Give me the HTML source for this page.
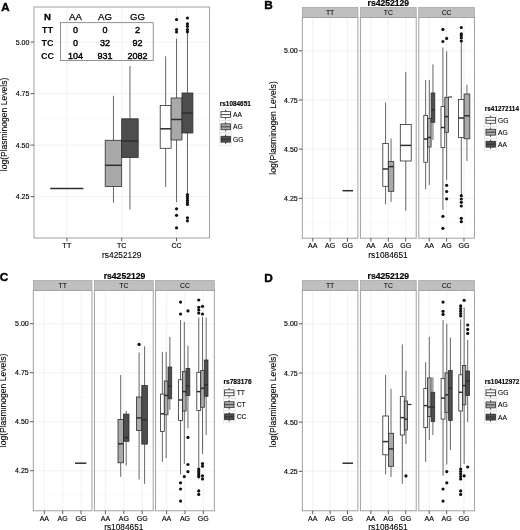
<!DOCTYPE html>
<html lang="en">
<head>
<meta charset="utf-8">
<title>Plasminogen levels by genotype</title>
<style>
html,body{margin:0;padding:0;background:#fff;}
body{width:520px;height:530px;overflow:hidden;}
svg{display:block;font-family:'Liberation Sans', Arial, Helvetica, sans-serif;filter:blur(0.35px);}
</style>
</head>
<body>
<svg width="520" height="530" viewBox="0 0 520 530">
<rect x="0" y="0" width="520" height="530" fill="#ffffff"/>
<rect x="34" y="7" width="175.5" height="231" fill="#ffffff" stroke="none" stroke-width="0.8"/>
<line x1="34" y1="16.25" x2="209.5" y2="16.25" stroke="#f9f9f9" stroke-width="0.6"/>
<line x1="34" y1="67.75" x2="209.5" y2="67.75" stroke="#f9f9f9" stroke-width="0.6"/>
<line x1="34" y1="119.25" x2="209.5" y2="119.25" stroke="#f9f9f9" stroke-width="0.6"/>
<line x1="34" y1="170.75" x2="209.5" y2="170.75" stroke="#f9f9f9" stroke-width="0.6"/>
<line x1="34" y1="222.25" x2="209.5" y2="222.25" stroke="#f9f9f9" stroke-width="0.6"/>
<line x1="34" y1="42" x2="209.5" y2="42" stroke="#ededed" stroke-width="0.7"/>
<line x1="34" y1="93.6" x2="209.5" y2="93.6" stroke="#ededed" stroke-width="0.7"/>
<line x1="34" y1="145.1" x2="209.5" y2="145.1" stroke="#ededed" stroke-width="0.7"/>
<line x1="34" y1="196.6" x2="209.5" y2="196.6" stroke="#ededed" stroke-width="0.7"/>
<line x1="66.9" y1="7" x2="66.9" y2="238" stroke="#ededed" stroke-width="0.7"/>
<line x1="121.7" y1="7" x2="121.7" y2="238" stroke="#ededed" stroke-width="0.7"/>
<line x1="176.5" y1="7" x2="176.5" y2="238" stroke="#ededed" stroke-width="0.7"/>
<line x1="50.2" y1="188.5" x2="83.4" y2="188.5" stroke="#2e2e2e" stroke-width="1.5"/>
<line x1="113.45" y1="95.8" x2="113.45" y2="140.3" stroke="#404040" stroke-width="0.8"/>
<line x1="113.45" y1="186.5" x2="113.45" y2="202.8" stroke="#404040" stroke-width="0.8"/>
<rect x="105.2" y="140.3" width="16.5" height="46.2" fill="#a9a9a9" stroke="#2e2e2e" stroke-width="0.8"/>
<line x1="105.2" y1="165.3" x2="121.7" y2="165.3" stroke="#2e2e2e" stroke-width="1.5"/>
<line x1="129.95" y1="66" x2="129.95" y2="118.8" stroke="#404040" stroke-width="0.8"/>
<line x1="129.95" y1="157.5" x2="129.95" y2="209.5" stroke="#404040" stroke-width="0.8"/>
<rect x="121.7" y="118.8" width="16.5" height="38.7" fill="#4d4d4d" stroke="#2e2e2e" stroke-width="0.8"/>
<line x1="121.7" y1="141" x2="138.2" y2="141" stroke="#2e2e2e" stroke-width="1.5"/>
<line x1="165.65" y1="56.3" x2="165.65" y2="105.5" stroke="#404040" stroke-width="0.8"/>
<line x1="165.65" y1="148.3" x2="165.65" y2="187" stroke="#404040" stroke-width="0.8"/>
<rect x="160.2" y="105.5" width="10.9" height="42.8" fill="#ffffff" stroke="#2e2e2e" stroke-width="0.8"/>
<line x1="160.2" y1="128.8" x2="171.1" y2="128.8" stroke="#2e2e2e" stroke-width="1.5"/>
<line x1="176.55" y1="38.8" x2="176.55" y2="98" stroke="#404040" stroke-width="0.8"/>
<line x1="176.55" y1="140" x2="176.55" y2="202" stroke="#404040" stroke-width="0.8"/>
<rect x="171.1" y="98" width="10.9" height="42" fill="#a9a9a9" stroke="#2e2e2e" stroke-width="0.8"/>
<line x1="171.1" y1="119.5" x2="182" y2="119.5" stroke="#2e2e2e" stroke-width="1.5"/>
<circle cx="176.55" cy="19.5" r="1.6" fill="#111"/>
<circle cx="176.55" cy="29.5" r="1.6" fill="#111"/>
<circle cx="176.55" cy="32" r="1.6" fill="#111"/>
<circle cx="176.55" cy="208.8" r="1.6" fill="#111"/>
<circle cx="176.55" cy="215.3" r="1.6" fill="#111"/>
<circle cx="176.55" cy="227.8" r="1.6" fill="#111"/>
<line x1="187.45" y1="32.5" x2="187.45" y2="93" stroke="#404040" stroke-width="0.8"/>
<line x1="187.45" y1="133" x2="187.45" y2="193" stroke="#404040" stroke-width="0.8"/>
<rect x="182" y="93" width="10.9" height="40" fill="#4d4d4d" stroke="#2e2e2e" stroke-width="0.8"/>
<line x1="182" y1="113" x2="192.9" y2="113" stroke="#2e2e2e" stroke-width="1.5"/>
<circle cx="187.45" cy="18" r="1.6" fill="#111"/>
<circle cx="187.45" cy="23.8" r="1.6" fill="#111"/>
<circle cx="187.45" cy="26.3" r="1.6" fill="#111"/>
<circle cx="187.45" cy="29.5" r="1.6" fill="#111"/>
<circle cx="187.45" cy="31.8" r="1.6" fill="#111"/>
<circle cx="187.45" cy="194.5" r="1.6" fill="#111"/>
<circle cx="187.45" cy="196.5" r="1.6" fill="#111"/>
<circle cx="187.45" cy="198.5" r="1.6" fill="#111"/>
<circle cx="187.45" cy="200.5" r="1.6" fill="#111"/>
<circle cx="187.45" cy="202.5" r="1.6" fill="#111"/>
<circle cx="187.45" cy="204.5" r="1.6" fill="#111"/>
<circle cx="187.45" cy="217.8" r="1.6" fill="#111"/>
<circle cx="187.45" cy="220.8" r="1.6" fill="#111"/>
<rect x="34" y="7" width="175.5" height="231" fill="none" stroke="#979797" stroke-width="0.9"/>
<rect x="60.6" y="22.7" width="92.6" height="37.8" fill="none" stroke="#6e6e6e" stroke-width="0.75"/>
<text x="47.5" y="20.3" font-size="9.5" text-anchor="middle" fill="#000" stroke="#000" stroke-width="0.3" font-weight="bold">N</text>
<text x="75.5" y="20.2" font-size="9.6" text-anchor="middle" fill="#000" stroke="#000" stroke-width="0.25">AA</text>
<text x="105" y="20.2" font-size="9.6" text-anchor="middle" fill="#000" stroke="#000" stroke-width="0.25">AG</text>
<text x="137.5" y="20.2" font-size="9.6" text-anchor="middle" fill="#000" stroke="#000" stroke-width="0.25">GG</text>
<text x="47.5" y="33.2" font-size="9" text-anchor="middle" fill="#000" font-weight="bold">TT</text>
<text x="75.5" y="33.2" font-size="9" text-anchor="middle" fill="#000" stroke="#000" stroke-width="0.4">0</text>
<text x="105" y="33.2" font-size="9" text-anchor="middle" fill="#000" stroke="#000" stroke-width="0.4">0</text>
<text x="137.5" y="33.2" font-size="9" text-anchor="middle" fill="#000" stroke="#000" stroke-width="0.4">2</text>
<text x="47.5" y="45.6" font-size="9" text-anchor="middle" fill="#000" font-weight="bold">TC</text>
<text x="75.5" y="45.6" font-size="9" text-anchor="middle" fill="#000" stroke="#000" stroke-width="0.4">0</text>
<text x="105" y="45.6" font-size="9" text-anchor="middle" fill="#000" stroke="#000" stroke-width="0.4">32</text>
<text x="137.5" y="45.6" font-size="9" text-anchor="middle" fill="#000" stroke="#000" stroke-width="0.4">92</text>
<text x="47.5" y="58.6" font-size="9" text-anchor="middle" fill="#000" font-weight="bold">CC</text>
<text x="75.5" y="58.6" font-size="9" text-anchor="middle" fill="#000" stroke="#000" stroke-width="0.4">104</text>
<text x="105" y="58.6" font-size="9" text-anchor="middle" fill="#000" stroke="#000" stroke-width="0.4">931</text>
<text x="137.5" y="58.6" font-size="9" text-anchor="middle" fill="#000" stroke="#000" stroke-width="0.4">2082</text>
<line x1="30.6" y1="42" x2="34" y2="42" stroke="#333333" stroke-width="0.8"/>
<text x="29.4" y="44.5" font-size="7" text-anchor="end" fill="#000000" stroke="#000000" stroke-width="0.15">5.00</text>
<line x1="30.6" y1="93.6" x2="34" y2="93.6" stroke="#333333" stroke-width="0.8"/>
<text x="29.4" y="96.1" font-size="7" text-anchor="end" fill="#000000" stroke="#000000" stroke-width="0.15">4.75</text>
<line x1="30.6" y1="145.1" x2="34" y2="145.1" stroke="#333333" stroke-width="0.8"/>
<text x="29.4" y="147.6" font-size="7" text-anchor="end" fill="#000000" stroke="#000000" stroke-width="0.15">4.50</text>
<line x1="30.6" y1="196.6" x2="34" y2="196.6" stroke="#333333" stroke-width="0.8"/>
<text x="29.4" y="199.1" font-size="7" text-anchor="end" fill="#000000" stroke="#000000" stroke-width="0.15">4.25</text>
<line x1="66.9" y1="238" x2="66.9" y2="241.4" stroke="#333333" stroke-width="0.8"/>
<text x="66.9" y="248.2" font-size="7" text-anchor="middle" fill="#000000" stroke="#000000" stroke-width="0.15">TT</text>
<line x1="121.7" y1="238" x2="121.7" y2="241.4" stroke="#333333" stroke-width="0.8"/>
<text x="121.7" y="248.2" font-size="7" text-anchor="middle" fill="#000000" stroke="#000000" stroke-width="0.15">TC</text>
<line x1="176.5" y1="238" x2="176.5" y2="241.4" stroke="#333333" stroke-width="0.8"/>
<text x="176.5" y="248.2" font-size="7" text-anchor="middle" fill="#000000" stroke="#000000" stroke-width="0.15">CC</text>
<text x="121.8" y="257.5" font-size="8.4" text-anchor="middle" fill="#000000" stroke="#000000" stroke-width="0.1" textLength="39.4" lengthAdjust="spacingAndGlyphs">rs4252129</text>
<text x="7.4" y="124.5" font-size="8.7" text-anchor="middle" fill="#000000" stroke="#000000" stroke-width="0.1" transform="rotate(-90 7.4 124.5)" textLength="93.5" lengthAdjust="spacingAndGlyphs">log(Plasminogen Levels)</text>
<text x="1.2" y="10.6" font-size="11.5" text-anchor="start" fill="#000" stroke="#000" stroke-width="0.4" font-weight="bold">A</text>
<text x="219.8" y="105.6" font-size="6.6" text-anchor="start" fill="#000000" stroke="#000000" stroke-width="0.12" textLength="31" lengthAdjust="spacingAndGlyphs" font-weight="bold">rs1084651</text>
<rect x="219.7" y="108.6" width="11.8" height="12" fill="#ffffff" stroke="#d6d6d6" stroke-width="0.5"/>
<line x1="225.6" y1="109.8" x2="225.6" y2="119.4" stroke="#2e2e2e" stroke-width="0.8"/>
<rect x="221" y="111.65" width="9.4" height="5.9" fill="#ffffff" stroke="#2e2e2e" stroke-width="0.8"/>
<line x1="221" y1="114.6" x2="230.4" y2="114.6" stroke="#2e2e2e" stroke-width="0.9"/>
<text x="233.1" y="117" font-size="6.7" text-anchor="start" fill="#000000" stroke="#000000" stroke-width="0.1">AA</text>
<rect x="219.7" y="120.8" width="11.8" height="12" fill="#ffffff" stroke="#d6d6d6" stroke-width="0.5"/>
<line x1="225.6" y1="122" x2="225.6" y2="131.6" stroke="#2e2e2e" stroke-width="0.8"/>
<rect x="221" y="123.85" width="9.4" height="5.9" fill="#a9a9a9" stroke="#2e2e2e" stroke-width="0.8"/>
<line x1="221" y1="126.8" x2="230.4" y2="126.8" stroke="#2e2e2e" stroke-width="0.9"/>
<text x="233.1" y="129.2" font-size="6.7" text-anchor="start" fill="#000000" stroke="#000000" stroke-width="0.1">AG</text>
<rect x="219.7" y="133.2" width="11.8" height="12" fill="#ffffff" stroke="#d6d6d6" stroke-width="0.5"/>
<line x1="225.6" y1="134.4" x2="225.6" y2="144" stroke="#2e2e2e" stroke-width="0.8"/>
<rect x="221" y="136.25" width="9.4" height="5.9" fill="#4d4d4d" stroke="#2e2e2e" stroke-width="0.8"/>
<line x1="221" y1="139.2" x2="230.4" y2="139.2" stroke="#2e2e2e" stroke-width="0.9"/>
<text x="233.1" y="141.6" font-size="6.7" text-anchor="start" fill="#000000" stroke="#000000" stroke-width="0.1">GG</text>
<rect x="302.3" y="17.5" width="55.6" height="220.7" fill="#ffffff" stroke="none" stroke-width="0.8"/>
<line x1="302.3" y1="26.2" x2="357.9" y2="26.2" stroke="#f9f9f9" stroke-width="0.6"/>
<line x1="302.3" y1="75.4" x2="357.9" y2="75.4" stroke="#f9f9f9" stroke-width="0.6"/>
<line x1="302.3" y1="124.6" x2="357.9" y2="124.6" stroke="#f9f9f9" stroke-width="0.6"/>
<line x1="302.3" y1="173.8" x2="357.9" y2="173.8" stroke="#f9f9f9" stroke-width="0.6"/>
<line x1="302.3" y1="223" x2="357.9" y2="223" stroke="#f9f9f9" stroke-width="0.6"/>
<line x1="302.3" y1="50.8" x2="357.9" y2="50.8" stroke="#ededed" stroke-width="0.7"/>
<line x1="302.3" y1="100" x2="357.9" y2="100" stroke="#ededed" stroke-width="0.7"/>
<line x1="302.3" y1="149.1" x2="357.9" y2="149.1" stroke="#ededed" stroke-width="0.7"/>
<line x1="302.3" y1="198.3" x2="357.9" y2="198.3" stroke="#ededed" stroke-width="0.7"/>
<line x1="312.73" y1="17.5" x2="312.73" y2="238.2" stroke="#ededed" stroke-width="0.7"/>
<line x1="330.1" y1="17.5" x2="330.1" y2="238.2" stroke="#ededed" stroke-width="0.7"/>
<line x1="347.48" y1="17.5" x2="347.48" y2="238.2" stroke="#ededed" stroke-width="0.7"/>
<rect x="360.4" y="17.5" width="55.8" height="220.7" fill="#ffffff" stroke="none" stroke-width="0.8"/>
<line x1="360.4" y1="26.2" x2="416.2" y2="26.2" stroke="#f9f9f9" stroke-width="0.6"/>
<line x1="360.4" y1="75.4" x2="416.2" y2="75.4" stroke="#f9f9f9" stroke-width="0.6"/>
<line x1="360.4" y1="124.6" x2="416.2" y2="124.6" stroke="#f9f9f9" stroke-width="0.6"/>
<line x1="360.4" y1="173.8" x2="416.2" y2="173.8" stroke="#f9f9f9" stroke-width="0.6"/>
<line x1="360.4" y1="223" x2="416.2" y2="223" stroke="#f9f9f9" stroke-width="0.6"/>
<line x1="360.4" y1="50.8" x2="416.2" y2="50.8" stroke="#ededed" stroke-width="0.7"/>
<line x1="360.4" y1="100" x2="416.2" y2="100" stroke="#ededed" stroke-width="0.7"/>
<line x1="360.4" y1="149.1" x2="416.2" y2="149.1" stroke="#ededed" stroke-width="0.7"/>
<line x1="360.4" y1="198.3" x2="416.2" y2="198.3" stroke="#ededed" stroke-width="0.7"/>
<line x1="370.86" y1="17.5" x2="370.86" y2="238.2" stroke="#ededed" stroke-width="0.7"/>
<line x1="388.3" y1="17.5" x2="388.3" y2="238.2" stroke="#ededed" stroke-width="0.7"/>
<line x1="405.74" y1="17.5" x2="405.74" y2="238.2" stroke="#ededed" stroke-width="0.7"/>
<rect x="418.8" y="17.5" width="55.6" height="220.7" fill="#ffffff" stroke="none" stroke-width="0.8"/>
<line x1="418.8" y1="26.2" x2="474.4" y2="26.2" stroke="#f9f9f9" stroke-width="0.6"/>
<line x1="418.8" y1="75.4" x2="474.4" y2="75.4" stroke="#f9f9f9" stroke-width="0.6"/>
<line x1="418.8" y1="124.6" x2="474.4" y2="124.6" stroke="#f9f9f9" stroke-width="0.6"/>
<line x1="418.8" y1="173.8" x2="474.4" y2="173.8" stroke="#f9f9f9" stroke-width="0.6"/>
<line x1="418.8" y1="223" x2="474.4" y2="223" stroke="#f9f9f9" stroke-width="0.6"/>
<line x1="418.8" y1="50.8" x2="474.4" y2="50.8" stroke="#ededed" stroke-width="0.7"/>
<line x1="418.8" y1="100" x2="474.4" y2="100" stroke="#ededed" stroke-width="0.7"/>
<line x1="418.8" y1="149.1" x2="474.4" y2="149.1" stroke="#ededed" stroke-width="0.7"/>
<line x1="418.8" y1="198.3" x2="474.4" y2="198.3" stroke="#ededed" stroke-width="0.7"/>
<line x1="429.23" y1="17.5" x2="429.23" y2="238.2" stroke="#ededed" stroke-width="0.7"/>
<line x1="446.6" y1="17.5" x2="446.6" y2="238.2" stroke="#ededed" stroke-width="0.7"/>
<line x1="463.98" y1="17.5" x2="463.98" y2="238.2" stroke="#ededed" stroke-width="0.7"/>
<line x1="342.5" y1="190.7" x2="353" y2="190.7" stroke="#2e2e2e" stroke-width="1.5"/>
<line x1="385.55" y1="102.5" x2="385.55" y2="143.5" stroke="#404040" stroke-width="0.8"/>
<line x1="385.55" y1="186.3" x2="385.55" y2="204.4" stroke="#404040" stroke-width="0.8"/>
<rect x="382.8" y="143.5" width="5.5" height="42.8" fill="#ffffff" stroke="#2e2e2e" stroke-width="0.8"/>
<line x1="382.8" y1="169" x2="388.3" y2="169" stroke="#2e2e2e" stroke-width="1.5"/>
<line x1="391.05" y1="138.5" x2="391.05" y2="161.6" stroke="#404040" stroke-width="0.8"/>
<line x1="391.05" y1="191.3" x2="391.05" y2="201.9" stroke="#404040" stroke-width="0.8"/>
<rect x="388.3" y="161.6" width="5.5" height="29.7" fill="#a9a9a9" stroke="#2e2e2e" stroke-width="0.8"/>
<line x1="388.3" y1="166.6" x2="393.8" y2="166.6" stroke="#2e2e2e" stroke-width="1.5"/>
<line x1="405.75" y1="71.9" x2="405.75" y2="124.4" stroke="#404040" stroke-width="0.8"/>
<line x1="405.75" y1="161" x2="405.75" y2="210.6" stroke="#404040" stroke-width="0.8"/>
<rect x="400.3" y="124.4" width="10.9" height="36.6" fill="#ffffff" stroke="#2e2e2e" stroke-width="0.8"/>
<line x1="400.3" y1="145.4" x2="411.2" y2="145.4" stroke="#2e2e2e" stroke-width="1.5"/>
<line x1="425.65" y1="80" x2="425.65" y2="115.4" stroke="#404040" stroke-width="0.8"/>
<line x1="425.65" y1="162.3" x2="425.65" y2="189.4" stroke="#404040" stroke-width="0.8"/>
<rect x="423.8" y="115.4" width="3.7" height="46.9" fill="#ffffff" stroke="#2e2e2e" stroke-width="0.8"/>
<line x1="423.8" y1="139" x2="427.5" y2="139" stroke="#2e2e2e" stroke-width="1.5"/>
<line x1="429.3" y1="80" x2="429.3" y2="118.5" stroke="#404040" stroke-width="0.8"/>
<line x1="429.3" y1="147" x2="429.3" y2="185" stroke="#404040" stroke-width="0.8"/>
<rect x="427.5" y="118.5" width="3.6" height="28.5" fill="#a9a9a9" stroke="#2e2e2e" stroke-width="0.8"/>
<line x1="427.5" y1="137.5" x2="431.1" y2="137.5" stroke="#2e2e2e" stroke-width="1.5"/>
<line x1="432.95" y1="64.4" x2="432.95" y2="93" stroke="#404040" stroke-width="0.8"/>
<line x1="432.95" y1="122.3" x2="432.95" y2="140" stroke="#404040" stroke-width="0.8"/>
<rect x="431.1" y="93" width="3.7" height="29.3" fill="#4d4d4d" stroke="#2e2e2e" stroke-width="0.8"/>
<line x1="431.1" y1="109.8" x2="434.8" y2="109.8" stroke="#2e2e2e" stroke-width="1.5"/>
<line x1="442.9" y1="47.5" x2="442.9" y2="106.6" stroke="#404040" stroke-width="0.8"/>
<line x1="442.9" y1="147.5" x2="442.9" y2="210" stroke="#404040" stroke-width="0.8"/>
<rect x="441" y="106.6" width="3.8" height="40.9" fill="#ffffff" stroke="#2e2e2e" stroke-width="0.8"/>
<line x1="441" y1="127.5" x2="444.8" y2="127.5" stroke="#2e2e2e" stroke-width="1.5"/>
<circle cx="442.9" cy="29.4" r="1.6" fill="#111"/>
<circle cx="442.9" cy="41.5" r="1.6" fill="#111"/>
<circle cx="442.9" cy="216.3" r="1.6" fill="#111"/>
<circle cx="442.9" cy="228.3" r="1.6" fill="#111"/>
<line x1="446.65" y1="51.3" x2="446.65" y2="97.3" stroke="#404040" stroke-width="0.8"/>
<line x1="446.65" y1="132.3" x2="446.65" y2="180" stroke="#404040" stroke-width="0.8"/>
<rect x="444.8" y="97.3" width="3.7" height="35" fill="#a9a9a9" stroke="#2e2e2e" stroke-width="0.8"/>
<line x1="444.8" y1="116.6" x2="448.5" y2="116.6" stroke="#2e2e2e" stroke-width="1.5"/>
<circle cx="446.65" cy="38.4" r="1.6" fill="#111"/>
<circle cx="446.65" cy="185.3" r="1.6" fill="#111"/>
<circle cx="446.65" cy="191.5" r="1.6" fill="#111"/>
<circle cx="446.65" cy="198.8" r="1.6" fill="#111"/>
<line x1="448.5" y1="97" x2="452.2" y2="97" stroke="#2e2e2e" stroke-width="1.1"/>
<line x1="461.3" y1="42" x2="461.3" y2="99.5" stroke="#404040" stroke-width="0.8"/>
<line x1="461.3" y1="137.5" x2="461.3" y2="195" stroke="#404040" stroke-width="0.8"/>
<rect x="458.5" y="99.5" width="5.6" height="38" fill="#ffffff" stroke="#2e2e2e" stroke-width="0.8"/>
<line x1="458.5" y1="118" x2="464.1" y2="118" stroke="#2e2e2e" stroke-width="1.5"/>
<circle cx="461.3" cy="27.5" r="1.6" fill="#111"/>
<circle cx="461.3" cy="33.8" r="1.6" fill="#111"/>
<circle cx="461.3" cy="35.6" r="1.6" fill="#111"/>
<circle cx="461.3" cy="38" r="1.6" fill="#111"/>
<circle cx="461.3" cy="41" r="1.6" fill="#111"/>
<circle cx="461.3" cy="195.7" r="1.6" fill="#111"/>
<circle cx="461.3" cy="199" r="1.6" fill="#111"/>
<circle cx="461.3" cy="202.3" r="1.6" fill="#111"/>
<circle cx="461.3" cy="206" r="1.6" fill="#111"/>
<circle cx="461.3" cy="218.3" r="1.6" fill="#111"/>
<circle cx="461.3" cy="221.7" r="1.6" fill="#111"/>
<line x1="466.95" y1="84.8" x2="466.95" y2="94" stroke="#404040" stroke-width="0.8"/>
<line x1="466.95" y1="138.8" x2="466.95" y2="161" stroke="#404040" stroke-width="0.8"/>
<rect x="464.1" y="94" width="5.7" height="44.8" fill="#a9a9a9" stroke="#2e2e2e" stroke-width="0.8"/>
<line x1="464.1" y1="115.8" x2="469.8" y2="115.8" stroke="#2e2e2e" stroke-width="1.5"/>
<rect x="302.3" y="17.5" width="55.6" height="220.7" fill="none" stroke="#979797" stroke-width="0.9"/>
<rect x="302.3" y="7.5" width="55.6" height="10" fill="#bfbfbf" stroke="#a0a0a0" stroke-width="0.7"/>
<text x="330.1" y="14.8" font-size="6.8" text-anchor="middle" fill="#000000" stroke="#000000" stroke-width="0.05">TT</text>
<line x1="312.73" y1="238.2" x2="312.73" y2="241.6" stroke="#333333" stroke-width="0.8"/>
<text x="312.73" y="248.3" font-size="7" text-anchor="middle" fill="#000000" stroke="#000000" stroke-width="0.15">AA</text>
<line x1="330.1" y1="238.2" x2="330.1" y2="241.6" stroke="#333333" stroke-width="0.8"/>
<text x="330.1" y="248.3" font-size="7" text-anchor="middle" fill="#000000" stroke="#000000" stroke-width="0.15">AG</text>
<line x1="347.48" y1="238.2" x2="347.48" y2="241.6" stroke="#333333" stroke-width="0.8"/>
<text x="347.48" y="248.3" font-size="7" text-anchor="middle" fill="#000000" stroke="#000000" stroke-width="0.15">GG</text>
<rect x="360.4" y="17.5" width="55.8" height="220.7" fill="none" stroke="#979797" stroke-width="0.9"/>
<rect x="360.4" y="7.5" width="55.8" height="10" fill="#bfbfbf" stroke="#a0a0a0" stroke-width="0.7"/>
<text x="388.3" y="14.8" font-size="6.8" text-anchor="middle" fill="#000000" stroke="#000000" stroke-width="0.05">TC</text>
<line x1="370.86" y1="238.2" x2="370.86" y2="241.6" stroke="#333333" stroke-width="0.8"/>
<text x="370.86" y="248.3" font-size="7" text-anchor="middle" fill="#000000" stroke="#000000" stroke-width="0.15">AA</text>
<line x1="388.3" y1="238.2" x2="388.3" y2="241.6" stroke="#333333" stroke-width="0.8"/>
<text x="388.3" y="248.3" font-size="7" text-anchor="middle" fill="#000000" stroke="#000000" stroke-width="0.15">AG</text>
<line x1="405.74" y1="238.2" x2="405.74" y2="241.6" stroke="#333333" stroke-width="0.8"/>
<text x="405.74" y="248.3" font-size="7" text-anchor="middle" fill="#000000" stroke="#000000" stroke-width="0.15">GG</text>
<rect x="418.8" y="17.5" width="55.6" height="220.7" fill="none" stroke="#979797" stroke-width="0.9"/>
<rect x="418.8" y="7.5" width="55.6" height="10" fill="#bfbfbf" stroke="#a0a0a0" stroke-width="0.7"/>
<text x="446.6" y="14.8" font-size="6.8" text-anchor="middle" fill="#000000" stroke="#000000" stroke-width="0.05">CC</text>
<line x1="429.23" y1="238.2" x2="429.23" y2="241.6" stroke="#333333" stroke-width="0.8"/>
<text x="429.23" y="248.3" font-size="7" text-anchor="middle" fill="#000000" stroke="#000000" stroke-width="0.15">AA</text>
<line x1="446.6" y1="238.2" x2="446.6" y2="241.6" stroke="#333333" stroke-width="0.8"/>
<text x="446.6" y="248.3" font-size="7" text-anchor="middle" fill="#000000" stroke="#000000" stroke-width="0.15">AG</text>
<line x1="463.98" y1="238.2" x2="463.98" y2="241.6" stroke="#333333" stroke-width="0.8"/>
<text x="463.98" y="248.3" font-size="7" text-anchor="middle" fill="#000000" stroke="#000000" stroke-width="0.15">GG</text>
<line x1="298.9" y1="50.8" x2="302.3" y2="50.8" stroke="#333333" stroke-width="0.8"/>
<text x="297.7" y="53.3" font-size="7" text-anchor="end" fill="#000000" stroke="#000000" stroke-width="0.15">5.00</text>
<line x1="298.9" y1="100" x2="302.3" y2="100" stroke="#333333" stroke-width="0.8"/>
<text x="297.7" y="102.5" font-size="7" text-anchor="end" fill="#000000" stroke="#000000" stroke-width="0.15">4.75</text>
<line x1="298.9" y1="149.1" x2="302.3" y2="149.1" stroke="#333333" stroke-width="0.8"/>
<text x="297.7" y="151.6" font-size="7" text-anchor="end" fill="#000000" stroke="#000000" stroke-width="0.15">4.50</text>
<line x1="298.9" y1="198.3" x2="302.3" y2="198.3" stroke="#333333" stroke-width="0.8"/>
<text x="297.7" y="200.8" font-size="7" text-anchor="end" fill="#000000" stroke="#000000" stroke-width="0.15">4.25</text>
<text x="388.3" y="6.3" font-size="8.6" text-anchor="middle" fill="#000" stroke="#000" stroke-width="0.2" textLength="41.5" lengthAdjust="spacingAndGlyphs" font-weight="bold">rs4252129</text>
<text x="388" y="257.7" font-size="8.4" text-anchor="middle" fill="#000000" stroke="#000000" stroke-width="0.1" textLength="39.3" lengthAdjust="spacingAndGlyphs">rs1084651</text>
<text x="275.6" y="128" font-size="8.7" text-anchor="middle" fill="#000000" stroke="#000000" stroke-width="0.1" transform="rotate(-90 275.6 128)" textLength="93.5" lengthAdjust="spacingAndGlyphs">log(Plasminogen Levels)</text>
<text x="264.3" y="9.2" font-size="11.8" text-anchor="start" fill="#000" stroke="#000" stroke-width="0.4" font-weight="bold">B</text>
<text x="484.8" y="111.3" font-size="6.6" text-anchor="start" fill="#000000" stroke="#000000" stroke-width="0.12" textLength="34.2" lengthAdjust="spacingAndGlyphs" font-weight="bold">rs41272114</text>
<rect x="484.7" y="114.3" width="11.8" height="12" fill="#ffffff" stroke="#d6d6d6" stroke-width="0.5"/>
<line x1="490.6" y1="115.5" x2="490.6" y2="125.1" stroke="#2e2e2e" stroke-width="0.8"/>
<rect x="486" y="117.35" width="9.4" height="5.9" fill="#ffffff" stroke="#2e2e2e" stroke-width="0.8"/>
<line x1="486" y1="120.3" x2="495.4" y2="120.3" stroke="#2e2e2e" stroke-width="0.9"/>
<text x="498.1" y="122.7" font-size="6.7" text-anchor="start" fill="#000000" stroke="#000000" stroke-width="0.1">GG</text>
<rect x="484.7" y="126.2" width="11.8" height="12" fill="#ffffff" stroke="#d6d6d6" stroke-width="0.5"/>
<line x1="490.6" y1="127.4" x2="490.6" y2="137" stroke="#2e2e2e" stroke-width="0.8"/>
<rect x="486" y="129.25" width="9.4" height="5.9" fill="#a9a9a9" stroke="#2e2e2e" stroke-width="0.8"/>
<line x1="486" y1="132.2" x2="495.4" y2="132.2" stroke="#2e2e2e" stroke-width="0.9"/>
<text x="498.1" y="134.6" font-size="6.7" text-anchor="start" fill="#000000" stroke="#000000" stroke-width="0.1">AG</text>
<rect x="484.7" y="138.2" width="11.8" height="12" fill="#ffffff" stroke="#d6d6d6" stroke-width="0.5"/>
<line x1="490.6" y1="139.4" x2="490.6" y2="149" stroke="#2e2e2e" stroke-width="0.8"/>
<rect x="486" y="141.25" width="9.4" height="5.9" fill="#4d4d4d" stroke="#2e2e2e" stroke-width="0.8"/>
<line x1="486" y1="144.2" x2="495.4" y2="144.2" stroke="#2e2e2e" stroke-width="0.9"/>
<text x="498.1" y="146.6" font-size="6.7" text-anchor="start" fill="#000000" stroke="#000000" stroke-width="0.1">AA</text>
<rect x="33.3" y="290.5" width="58.7" height="220.3" fill="#ffffff" stroke="none" stroke-width="0.8"/>
<line x1="33.3" y1="299.2" x2="92" y2="299.2" stroke="#f9f9f9" stroke-width="0.6"/>
<line x1="33.3" y1="348.2" x2="92" y2="348.2" stroke="#f9f9f9" stroke-width="0.6"/>
<line x1="33.3" y1="397.2" x2="92" y2="397.2" stroke="#f9f9f9" stroke-width="0.6"/>
<line x1="33.3" y1="446.2" x2="92" y2="446.2" stroke="#f9f9f9" stroke-width="0.6"/>
<line x1="33.3" y1="495.2" x2="92" y2="495.2" stroke="#f9f9f9" stroke-width="0.6"/>
<line x1="33.3" y1="323.7" x2="92" y2="323.7" stroke="#ededed" stroke-width="0.7"/>
<line x1="33.3" y1="372.7" x2="92" y2="372.7" stroke="#ededed" stroke-width="0.7"/>
<line x1="33.3" y1="421.7" x2="92" y2="421.7" stroke="#ededed" stroke-width="0.7"/>
<line x1="33.3" y1="470.7" x2="92" y2="470.7" stroke="#ededed" stroke-width="0.7"/>
<line x1="44.31" y1="290.5" x2="44.31" y2="510.8" stroke="#ededed" stroke-width="0.7"/>
<line x1="62.65" y1="290.5" x2="62.65" y2="510.8" stroke="#ededed" stroke-width="0.7"/>
<line x1="80.99" y1="290.5" x2="80.99" y2="510.8" stroke="#ededed" stroke-width="0.7"/>
<rect x="94.4" y="290.5" width="58.8" height="220.3" fill="#ffffff" stroke="none" stroke-width="0.8"/>
<line x1="94.4" y1="299.2" x2="153.2" y2="299.2" stroke="#f9f9f9" stroke-width="0.6"/>
<line x1="94.4" y1="348.2" x2="153.2" y2="348.2" stroke="#f9f9f9" stroke-width="0.6"/>
<line x1="94.4" y1="397.2" x2="153.2" y2="397.2" stroke="#f9f9f9" stroke-width="0.6"/>
<line x1="94.4" y1="446.2" x2="153.2" y2="446.2" stroke="#f9f9f9" stroke-width="0.6"/>
<line x1="94.4" y1="495.2" x2="153.2" y2="495.2" stroke="#f9f9f9" stroke-width="0.6"/>
<line x1="94.4" y1="323.7" x2="153.2" y2="323.7" stroke="#ededed" stroke-width="0.7"/>
<line x1="94.4" y1="372.7" x2="153.2" y2="372.7" stroke="#ededed" stroke-width="0.7"/>
<line x1="94.4" y1="421.7" x2="153.2" y2="421.7" stroke="#ededed" stroke-width="0.7"/>
<line x1="94.4" y1="470.7" x2="153.2" y2="470.7" stroke="#ededed" stroke-width="0.7"/>
<line x1="105.42" y1="290.5" x2="105.42" y2="510.8" stroke="#ededed" stroke-width="0.7"/>
<line x1="123.8" y1="290.5" x2="123.8" y2="510.8" stroke="#ededed" stroke-width="0.7"/>
<line x1="142.17" y1="290.5" x2="142.17" y2="510.8" stroke="#ededed" stroke-width="0.7"/>
<rect x="155.6" y="290.5" width="58.7" height="220.3" fill="#ffffff" stroke="none" stroke-width="0.8"/>
<line x1="155.6" y1="299.2" x2="214.3" y2="299.2" stroke="#f9f9f9" stroke-width="0.6"/>
<line x1="155.6" y1="348.2" x2="214.3" y2="348.2" stroke="#f9f9f9" stroke-width="0.6"/>
<line x1="155.6" y1="397.2" x2="214.3" y2="397.2" stroke="#f9f9f9" stroke-width="0.6"/>
<line x1="155.6" y1="446.2" x2="214.3" y2="446.2" stroke="#f9f9f9" stroke-width="0.6"/>
<line x1="155.6" y1="495.2" x2="214.3" y2="495.2" stroke="#f9f9f9" stroke-width="0.6"/>
<line x1="155.6" y1="323.7" x2="214.3" y2="323.7" stroke="#ededed" stroke-width="0.7"/>
<line x1="155.6" y1="372.7" x2="214.3" y2="372.7" stroke="#ededed" stroke-width="0.7"/>
<line x1="155.6" y1="421.7" x2="214.3" y2="421.7" stroke="#ededed" stroke-width="0.7"/>
<line x1="155.6" y1="470.7" x2="214.3" y2="470.7" stroke="#ededed" stroke-width="0.7"/>
<line x1="166.61" y1="290.5" x2="166.61" y2="510.8" stroke="#ededed" stroke-width="0.7"/>
<line x1="184.95" y1="290.5" x2="184.95" y2="510.8" stroke="#ededed" stroke-width="0.7"/>
<line x1="203.29" y1="290.5" x2="203.29" y2="510.8" stroke="#ededed" stroke-width="0.7"/>
<line x1="75" y1="463.2" x2="86.3" y2="463.2" stroke="#2e2e2e" stroke-width="1.5"/>
<line x1="120.7" y1="375" x2="120.7" y2="419.5" stroke="#404040" stroke-width="0.8"/>
<line x1="120.7" y1="462.8" x2="120.7" y2="476.9" stroke="#404040" stroke-width="0.8"/>
<rect x="118" y="419.5" width="5.4" height="43.3" fill="#a9a9a9" stroke="#2e2e2e" stroke-width="0.8"/>
<line x1="118" y1="443.8" x2="123.4" y2="443.8" stroke="#2e2e2e" stroke-width="1.5"/>
<line x1="126.2" y1="411" x2="126.2" y2="414.1" stroke="#404040" stroke-width="0.8"/>
<line x1="126.2" y1="441.3" x2="126.2" y2="465.6" stroke="#404040" stroke-width="0.8"/>
<rect x="123.4" y="414.1" width="5.6" height="27.2" fill="#4d4d4d" stroke="#2e2e2e" stroke-width="0.8"/>
<line x1="123.4" y1="437.6" x2="129" y2="437.6" stroke="#2e2e2e" stroke-width="1.5"/>
<line x1="139.1" y1="352.5" x2="139.1" y2="397" stroke="#404040" stroke-width="0.8"/>
<line x1="139.1" y1="430.4" x2="139.1" y2="479.6" stroke="#404040" stroke-width="0.8"/>
<rect x="136.4" y="397" width="5.4" height="33.4" fill="#a9a9a9" stroke="#2e2e2e" stroke-width="0.8"/>
<line x1="136.4" y1="417.9" x2="141.8" y2="417.9" stroke="#2e2e2e" stroke-width="1.5"/>
<circle cx="139.1" cy="344.4" r="1.6" fill="#111"/>
<line x1="144.6" y1="346.3" x2="144.6" y2="385.6" stroke="#404040" stroke-width="0.8"/>
<line x1="144.6" y1="444.1" x2="144.6" y2="483.8" stroke="#404040" stroke-width="0.8"/>
<rect x="141.8" y="385.6" width="5.6" height="58.5" fill="#4d4d4d" stroke="#2e2e2e" stroke-width="0.8"/>
<line x1="141.8" y1="419.8" x2="147.4" y2="419.8" stroke="#2e2e2e" stroke-width="1.5"/>
<line x1="162.35" y1="351.9" x2="162.35" y2="394.1" stroke="#404040" stroke-width="0.8"/>
<line x1="162.35" y1="431.4" x2="162.35" y2="462" stroke="#404040" stroke-width="0.8"/>
<rect x="160.4" y="394.1" width="3.9" height="37.3" fill="#ffffff" stroke="#2e2e2e" stroke-width="0.8"/>
<line x1="160.4" y1="413.8" x2="164.3" y2="413.8" stroke="#2e2e2e" stroke-width="1.5"/>
<line x1="166.15" y1="351.9" x2="166.15" y2="381" stroke="#404040" stroke-width="0.8"/>
<line x1="166.15" y1="414.8" x2="166.15" y2="458.3" stroke="#404040" stroke-width="0.8"/>
<rect x="164.3" y="381" width="3.7" height="33.8" fill="#a9a9a9" stroke="#2e2e2e" stroke-width="0.8"/>
<line x1="164.3" y1="395.4" x2="168" y2="395.4" stroke="#2e2e2e" stroke-width="1.5"/>
<line x1="169.85" y1="336.9" x2="169.85" y2="367" stroke="#404040" stroke-width="0.8"/>
<line x1="169.85" y1="398.8" x2="169.85" y2="409.8" stroke="#404040" stroke-width="0.8"/>
<rect x="168" y="367" width="3.7" height="31.8" fill="#4d4d4d" stroke="#2e2e2e" stroke-width="0.8"/>
<line x1="168" y1="386.3" x2="171.7" y2="386.3" stroke="#2e2e2e" stroke-width="1.5"/>
<line x1="180.55" y1="320" x2="180.55" y2="379.8" stroke="#404040" stroke-width="0.8"/>
<line x1="180.55" y1="420.4" x2="180.55" y2="474.5" stroke="#404040" stroke-width="0.8"/>
<rect x="178.6" y="379.8" width="3.9" height="40.6" fill="#ffffff" stroke="#2e2e2e" stroke-width="0.8"/>
<line x1="178.6" y1="400" x2="182.5" y2="400" stroke="#2e2e2e" stroke-width="1.5"/>
<circle cx="180.55" cy="302.1" r="1.6" fill="#111"/>
<circle cx="180.55" cy="314" r="1.6" fill="#111"/>
<circle cx="180.55" cy="482.8" r="1.6" fill="#111"/>
<circle cx="180.55" cy="489" r="1.6" fill="#111"/>
<circle cx="180.55" cy="501.1" r="1.6" fill="#111"/>
<line x1="184.3" y1="321.9" x2="184.3" y2="371.6" stroke="#404040" stroke-width="0.8"/>
<line x1="184.3" y1="411" x2="184.3" y2="463.9" stroke="#404040" stroke-width="0.8"/>
<rect x="182.5" y="371.6" width="3.6" height="39.4" fill="#a9a9a9" stroke="#2e2e2e" stroke-width="0.8"/>
<line x1="182.5" y1="391.6" x2="186.1" y2="391.6" stroke="#2e2e2e" stroke-width="1.5"/>
<circle cx="184.3" cy="476.6" r="1.6" fill="#111"/>
<line x1="187.95" y1="345.6" x2="187.95" y2="368.5" stroke="#404040" stroke-width="0.8"/>
<line x1="187.95" y1="395.4" x2="187.95" y2="428.3" stroke="#404040" stroke-width="0.8"/>
<rect x="186.1" y="368.5" width="3.7" height="26.9" fill="#4d4d4d" stroke="#2e2e2e" stroke-width="0.8"/>
<line x1="186.1" y1="386" x2="189.8" y2="386" stroke="#2e2e2e" stroke-width="1.5"/>
<circle cx="187.95" cy="310.9" r="1.6" fill="#111"/>
<circle cx="187.95" cy="437.4" r="1.6" fill="#111"/>
<circle cx="187.95" cy="464.5" r="1.6" fill="#111"/>
<circle cx="187.95" cy="471.7" r="1.6" fill="#111"/>
<line x1="198.75" y1="317.5" x2="198.75" y2="372.3" stroke="#404040" stroke-width="0.8"/>
<line x1="198.75" y1="410.4" x2="198.75" y2="467.6" stroke="#404040" stroke-width="0.8"/>
<rect x="196.8" y="372.3" width="3.9" height="38.1" fill="#ffffff" stroke="#2e2e2e" stroke-width="0.8"/>
<line x1="196.8" y1="391.6" x2="200.7" y2="391.6" stroke="#2e2e2e" stroke-width="1.5"/>
<circle cx="198.75" cy="300" r="1.6" fill="#111"/>
<circle cx="198.75" cy="307.3" r="1.6" fill="#111"/>
<circle cx="198.75" cy="310" r="1.6" fill="#111"/>
<circle cx="198.75" cy="313.1" r="1.6" fill="#111"/>
<circle cx="198.75" cy="469" r="1.6" fill="#111"/>
<circle cx="198.75" cy="471" r="1.6" fill="#111"/>
<circle cx="198.75" cy="473" r="1.6" fill="#111"/>
<circle cx="198.75" cy="475" r="1.6" fill="#111"/>
<circle cx="198.75" cy="476.8" r="1.6" fill="#111"/>
<circle cx="198.75" cy="490.9" r="1.6" fill="#111"/>
<circle cx="198.75" cy="494.4" r="1.6" fill="#111"/>
<line x1="202.5" y1="316.9" x2="202.5" y2="370.4" stroke="#404040" stroke-width="0.8"/>
<line x1="202.5" y1="407.3" x2="202.5" y2="453.9" stroke="#404040" stroke-width="0.8"/>
<rect x="200.7" y="370.4" width="3.6" height="36.9" fill="#a9a9a9" stroke="#2e2e2e" stroke-width="0.8"/>
<line x1="200.7" y1="388.3" x2="204.3" y2="388.3" stroke="#2e2e2e" stroke-width="1.5"/>
<circle cx="202.5" cy="306.3" r="1.6" fill="#111"/>
<circle cx="202.5" cy="314" r="1.6" fill="#111"/>
<circle cx="202.5" cy="463.6" r="1.6" fill="#111"/>
<circle cx="202.5" cy="466.2" r="1.6" fill="#111"/>
<circle cx="202.5" cy="475.8" r="1.6" fill="#111"/>
<circle cx="202.5" cy="478.9" r="1.6" fill="#111"/>
<line x1="206.15" y1="317.5" x2="206.15" y2="360" stroke="#404040" stroke-width="0.8"/>
<line x1="206.15" y1="396.3" x2="206.15" y2="435.1" stroke="#404040" stroke-width="0.8"/>
<rect x="204.3" y="360" width="3.7" height="36.3" fill="#4d4d4d" stroke="#2e2e2e" stroke-width="0.8"/>
<line x1="204.3" y1="384.8" x2="208" y2="384.8" stroke="#2e2e2e" stroke-width="1.5"/>
<rect x="33.3" y="290.5" width="58.7" height="220.3" fill="none" stroke="#979797" stroke-width="0.9"/>
<rect x="33.3" y="280.5" width="58.7" height="10" fill="#bfbfbf" stroke="#a0a0a0" stroke-width="0.7"/>
<text x="62.65" y="287.8" font-size="6.8" text-anchor="middle" fill="#000000" stroke="#000000" stroke-width="0.05">TT</text>
<line x1="44.31" y1="510.8" x2="44.31" y2="514.2" stroke="#333333" stroke-width="0.8"/>
<text x="44.31" y="521" font-size="7" text-anchor="middle" fill="#000000" stroke="#000000" stroke-width="0.15">AA</text>
<line x1="62.65" y1="510.8" x2="62.65" y2="514.2" stroke="#333333" stroke-width="0.8"/>
<text x="62.65" y="521" font-size="7" text-anchor="middle" fill="#000000" stroke="#000000" stroke-width="0.15">AG</text>
<line x1="80.99" y1="510.8" x2="80.99" y2="514.2" stroke="#333333" stroke-width="0.8"/>
<text x="80.99" y="521" font-size="7" text-anchor="middle" fill="#000000" stroke="#000000" stroke-width="0.15">GG</text>
<rect x="94.4" y="290.5" width="58.8" height="220.3" fill="none" stroke="#979797" stroke-width="0.9"/>
<rect x="94.4" y="280.5" width="58.8" height="10" fill="#bfbfbf" stroke="#a0a0a0" stroke-width="0.7"/>
<text x="123.8" y="287.8" font-size="6.8" text-anchor="middle" fill="#000000" stroke="#000000" stroke-width="0.05">TC</text>
<line x1="105.42" y1="510.8" x2="105.42" y2="514.2" stroke="#333333" stroke-width="0.8"/>
<text x="105.42" y="521" font-size="7" text-anchor="middle" fill="#000000" stroke="#000000" stroke-width="0.15">AA</text>
<line x1="123.8" y1="510.8" x2="123.8" y2="514.2" stroke="#333333" stroke-width="0.8"/>
<text x="123.8" y="521" font-size="7" text-anchor="middle" fill="#000000" stroke="#000000" stroke-width="0.15">AG</text>
<line x1="142.17" y1="510.8" x2="142.17" y2="514.2" stroke="#333333" stroke-width="0.8"/>
<text x="142.17" y="521" font-size="7" text-anchor="middle" fill="#000000" stroke="#000000" stroke-width="0.15">GG</text>
<rect x="155.6" y="290.5" width="58.7" height="220.3" fill="none" stroke="#979797" stroke-width="0.9"/>
<rect x="155.6" y="280.5" width="58.7" height="10" fill="#bfbfbf" stroke="#a0a0a0" stroke-width="0.7"/>
<text x="184.95" y="287.8" font-size="6.8" text-anchor="middle" fill="#000000" stroke="#000000" stroke-width="0.05">CC</text>
<line x1="166.61" y1="510.8" x2="166.61" y2="514.2" stroke="#333333" stroke-width="0.8"/>
<text x="166.61" y="521" font-size="7" text-anchor="middle" fill="#000000" stroke="#000000" stroke-width="0.15">AA</text>
<line x1="184.95" y1="510.8" x2="184.95" y2="514.2" stroke="#333333" stroke-width="0.8"/>
<text x="184.95" y="521" font-size="7" text-anchor="middle" fill="#000000" stroke="#000000" stroke-width="0.15">AG</text>
<line x1="203.29" y1="510.8" x2="203.29" y2="514.2" stroke="#333333" stroke-width="0.8"/>
<text x="203.29" y="521" font-size="7" text-anchor="middle" fill="#000000" stroke="#000000" stroke-width="0.15">GG</text>
<line x1="29.9" y1="323.7" x2="33.3" y2="323.7" stroke="#333333" stroke-width="0.8"/>
<text x="28.7" y="326.2" font-size="7" text-anchor="end" fill="#000000" stroke="#000000" stroke-width="0.15">5.00</text>
<line x1="29.9" y1="372.7" x2="33.3" y2="372.7" stroke="#333333" stroke-width="0.8"/>
<text x="28.7" y="375.2" font-size="7" text-anchor="end" fill="#000000" stroke="#000000" stroke-width="0.15">4.75</text>
<line x1="29.9" y1="421.7" x2="33.3" y2="421.7" stroke="#333333" stroke-width="0.8"/>
<text x="28.7" y="424.2" font-size="7" text-anchor="end" fill="#000000" stroke="#000000" stroke-width="0.15">4.50</text>
<line x1="29.9" y1="470.7" x2="33.3" y2="470.7" stroke="#333333" stroke-width="0.8"/>
<text x="28.7" y="473.2" font-size="7" text-anchor="end" fill="#000000" stroke="#000000" stroke-width="0.15">4.25</text>
<text x="124.5" y="279.3" font-size="8.6" text-anchor="middle" fill="#000" stroke="#000" stroke-width="0.2" textLength="41.5" lengthAdjust="spacingAndGlyphs" font-weight="bold">rs4252129</text>
<text x="123.8" y="530.2" font-size="8.4" text-anchor="middle" fill="#000000" stroke="#000000" stroke-width="0.1" textLength="39.3" lengthAdjust="spacingAndGlyphs">rs1084651</text>
<text x="6" y="400.5" font-size="8.7" text-anchor="middle" fill="#000000" stroke="#000000" stroke-width="0.1" transform="rotate(-90 6 400.5)" textLength="93.5" lengthAdjust="spacingAndGlyphs">log(Plasminogen Levels)</text>
<text x="-0.2" y="281.2" font-size="11.8" text-anchor="start" fill="#000" stroke="#000" stroke-width="0.4" font-weight="bold">C</text>
<text x="223.4" y="383.6" font-size="6.6" text-anchor="start" fill="#000000" stroke="#000000" stroke-width="0.12" textLength="28.3" lengthAdjust="spacingAndGlyphs" font-weight="bold">rs783176</text>
<rect x="223.3" y="386.8" width="11.8" height="12" fill="#ffffff" stroke="#d6d6d6" stroke-width="0.5"/>
<line x1="229.2" y1="388" x2="229.2" y2="397.6" stroke="#2e2e2e" stroke-width="0.8"/>
<rect x="224.6" y="389.85" width="9.4" height="5.9" fill="#ffffff" stroke="#2e2e2e" stroke-width="0.8"/>
<line x1="224.6" y1="392.8" x2="234" y2="392.8" stroke="#2e2e2e" stroke-width="0.9"/>
<text x="236.7" y="395.2" font-size="6.7" text-anchor="start" fill="#000000" stroke="#000000" stroke-width="0.1">TT</text>
<rect x="223.3" y="398.7" width="11.8" height="12" fill="#ffffff" stroke="#d6d6d6" stroke-width="0.5"/>
<line x1="229.2" y1="399.9" x2="229.2" y2="409.5" stroke="#2e2e2e" stroke-width="0.8"/>
<rect x="224.6" y="401.75" width="9.4" height="5.9" fill="#a9a9a9" stroke="#2e2e2e" stroke-width="0.8"/>
<line x1="224.6" y1="404.7" x2="234" y2="404.7" stroke="#2e2e2e" stroke-width="0.9"/>
<text x="236.7" y="407.1" font-size="6.7" text-anchor="start" fill="#000000" stroke="#000000" stroke-width="0.1">CT</text>
<rect x="223.3" y="410.8" width="11.8" height="12" fill="#ffffff" stroke="#d6d6d6" stroke-width="0.5"/>
<line x1="229.2" y1="412" x2="229.2" y2="421.6" stroke="#2e2e2e" stroke-width="0.8"/>
<rect x="224.6" y="413.85" width="9.4" height="5.9" fill="#4d4d4d" stroke="#2e2e2e" stroke-width="0.8"/>
<line x1="224.6" y1="416.8" x2="234" y2="416.8" stroke="#2e2e2e" stroke-width="0.9"/>
<text x="236.7" y="419.2" font-size="6.7" text-anchor="start" fill="#000000" stroke="#000000" stroke-width="0.1">CC</text>
<rect x="302.3" y="290.5" width="55.6" height="220.7" fill="#ffffff" stroke="none" stroke-width="0.8"/>
<line x1="302.3" y1="299.2" x2="357.9" y2="299.2" stroke="#f9f9f9" stroke-width="0.6"/>
<line x1="302.3" y1="348.4" x2="357.9" y2="348.4" stroke="#f9f9f9" stroke-width="0.6"/>
<line x1="302.3" y1="397.6" x2="357.9" y2="397.6" stroke="#f9f9f9" stroke-width="0.6"/>
<line x1="302.3" y1="446.8" x2="357.9" y2="446.8" stroke="#f9f9f9" stroke-width="0.6"/>
<line x1="302.3" y1="496" x2="357.9" y2="496" stroke="#f9f9f9" stroke-width="0.6"/>
<line x1="302.3" y1="323.8" x2="357.9" y2="323.8" stroke="#ededed" stroke-width="0.7"/>
<line x1="302.3" y1="373" x2="357.9" y2="373" stroke="#ededed" stroke-width="0.7"/>
<line x1="302.3" y1="422.1" x2="357.9" y2="422.1" stroke="#ededed" stroke-width="0.7"/>
<line x1="302.3" y1="471.3" x2="357.9" y2="471.3" stroke="#ededed" stroke-width="0.7"/>
<line x1="312.73" y1="290.5" x2="312.73" y2="511.2" stroke="#ededed" stroke-width="0.7"/>
<line x1="330.1" y1="290.5" x2="330.1" y2="511.2" stroke="#ededed" stroke-width="0.7"/>
<line x1="347.48" y1="290.5" x2="347.48" y2="511.2" stroke="#ededed" stroke-width="0.7"/>
<rect x="360.4" y="290.5" width="55.8" height="220.7" fill="#ffffff" stroke="none" stroke-width="0.8"/>
<line x1="360.4" y1="299.2" x2="416.2" y2="299.2" stroke="#f9f9f9" stroke-width="0.6"/>
<line x1="360.4" y1="348.4" x2="416.2" y2="348.4" stroke="#f9f9f9" stroke-width="0.6"/>
<line x1="360.4" y1="397.6" x2="416.2" y2="397.6" stroke="#f9f9f9" stroke-width="0.6"/>
<line x1="360.4" y1="446.8" x2="416.2" y2="446.8" stroke="#f9f9f9" stroke-width="0.6"/>
<line x1="360.4" y1="496" x2="416.2" y2="496" stroke="#f9f9f9" stroke-width="0.6"/>
<line x1="360.4" y1="323.8" x2="416.2" y2="323.8" stroke="#ededed" stroke-width="0.7"/>
<line x1="360.4" y1="373" x2="416.2" y2="373" stroke="#ededed" stroke-width="0.7"/>
<line x1="360.4" y1="422.1" x2="416.2" y2="422.1" stroke="#ededed" stroke-width="0.7"/>
<line x1="360.4" y1="471.3" x2="416.2" y2="471.3" stroke="#ededed" stroke-width="0.7"/>
<line x1="370.86" y1="290.5" x2="370.86" y2="511.2" stroke="#ededed" stroke-width="0.7"/>
<line x1="388.3" y1="290.5" x2="388.3" y2="511.2" stroke="#ededed" stroke-width="0.7"/>
<line x1="405.74" y1="290.5" x2="405.74" y2="511.2" stroke="#ededed" stroke-width="0.7"/>
<rect x="418.8" y="290.5" width="55.6" height="220.7" fill="#ffffff" stroke="none" stroke-width="0.8"/>
<line x1="418.8" y1="299.2" x2="474.4" y2="299.2" stroke="#f9f9f9" stroke-width="0.6"/>
<line x1="418.8" y1="348.4" x2="474.4" y2="348.4" stroke="#f9f9f9" stroke-width="0.6"/>
<line x1="418.8" y1="397.6" x2="474.4" y2="397.6" stroke="#f9f9f9" stroke-width="0.6"/>
<line x1="418.8" y1="446.8" x2="474.4" y2="446.8" stroke="#f9f9f9" stroke-width="0.6"/>
<line x1="418.8" y1="496" x2="474.4" y2="496" stroke="#f9f9f9" stroke-width="0.6"/>
<line x1="418.8" y1="323.8" x2="474.4" y2="323.8" stroke="#ededed" stroke-width="0.7"/>
<line x1="418.8" y1="373" x2="474.4" y2="373" stroke="#ededed" stroke-width="0.7"/>
<line x1="418.8" y1="422.1" x2="474.4" y2="422.1" stroke="#ededed" stroke-width="0.7"/>
<line x1="418.8" y1="471.3" x2="474.4" y2="471.3" stroke="#ededed" stroke-width="0.7"/>
<line x1="429.23" y1="290.5" x2="429.23" y2="511.2" stroke="#ededed" stroke-width="0.7"/>
<line x1="446.6" y1="290.5" x2="446.6" y2="511.2" stroke="#ededed" stroke-width="0.7"/>
<line x1="463.98" y1="290.5" x2="463.98" y2="511.2" stroke="#ededed" stroke-width="0.7"/>
<line x1="342.5" y1="463.2" x2="353" y2="463.2" stroke="#2e2e2e" stroke-width="1.5"/>
<line x1="385.6" y1="374.8" x2="385.6" y2="416" stroke="#404040" stroke-width="0.8"/>
<line x1="385.6" y1="454.8" x2="385.6" y2="474.4" stroke="#404040" stroke-width="0.8"/>
<rect x="382.8" y="416" width="5.6" height="38.8" fill="#ffffff" stroke="#2e2e2e" stroke-width="0.8"/>
<line x1="382.8" y1="441.6" x2="388.4" y2="441.6" stroke="#2e2e2e" stroke-width="1.5"/>
<line x1="391" y1="388.8" x2="391" y2="433.3" stroke="#404040" stroke-width="0.8"/>
<line x1="391" y1="466.3" x2="391" y2="476.9" stroke="#404040" stroke-width="0.8"/>
<rect x="388.4" y="433.3" width="5.2" height="33" fill="#a9a9a9" stroke="#2e2e2e" stroke-width="0.8"/>
<line x1="388.4" y1="448.9" x2="393.6" y2="448.9" stroke="#2e2e2e" stroke-width="1.5"/>
<line x1="402.3" y1="344.4" x2="402.3" y2="396.6" stroke="#404040" stroke-width="0.8"/>
<line x1="402.3" y1="435" x2="402.3" y2="483.8" stroke="#404040" stroke-width="0.8"/>
<rect x="400.3" y="396.6" width="4" height="38.4" fill="#ffffff" stroke="#2e2e2e" stroke-width="0.8"/>
<line x1="400.3" y1="417.6" x2="404.3" y2="417.6" stroke="#2e2e2e" stroke-width="1.5"/>
<line x1="405.95" y1="370.6" x2="405.95" y2="401" stroke="#404040" stroke-width="0.8"/>
<line x1="405.95" y1="430" x2="405.95" y2="444.1" stroke="#404040" stroke-width="0.8"/>
<rect x="404.3" y="401" width="3.3" height="29" fill="#a9a9a9" stroke="#2e2e2e" stroke-width="0.8"/>
<line x1="404.3" y1="419.1" x2="407.6" y2="419.1" stroke="#2e2e2e" stroke-width="1.5"/>
<circle cx="405.95" cy="475.9" r="1.6" fill="#111"/>
<line x1="407.6" y1="404.5" x2="411.5" y2="404.5" stroke="#2e2e2e" stroke-width="1.2"/>
<line x1="425.65" y1="362.3" x2="425.65" y2="388.5" stroke="#404040" stroke-width="0.8"/>
<line x1="425.65" y1="427.6" x2="425.65" y2="462" stroke="#404040" stroke-width="0.8"/>
<rect x="423.8" y="388.5" width="3.7" height="39.1" fill="#ffffff" stroke="#2e2e2e" stroke-width="0.8"/>
<line x1="423.8" y1="405.6" x2="427.5" y2="405.6" stroke="#2e2e2e" stroke-width="1.5"/>
<line x1="429.3" y1="336.9" x2="429.3" y2="377.9" stroke="#404040" stroke-width="0.8"/>
<line x1="429.3" y1="416.6" x2="429.3" y2="440.1" stroke="#404040" stroke-width="0.8"/>
<rect x="427.5" y="377.9" width="3.6" height="38.7" fill="#a9a9a9" stroke="#2e2e2e" stroke-width="0.8"/>
<line x1="427.5" y1="407" x2="431.1" y2="407" stroke="#2e2e2e" stroke-width="1.5"/>
<line x1="432.9" y1="377.3" x2="432.9" y2="392.3" stroke="#404040" stroke-width="0.8"/>
<line x1="432.9" y1="421.5" x2="432.9" y2="435.1" stroke="#404040" stroke-width="0.8"/>
<rect x="431.1" y="392.3" width="3.6" height="29.2" fill="#4d4d4d" stroke="#2e2e2e" stroke-width="0.8"/>
<line x1="431.1" y1="407" x2="434.7" y2="407" stroke="#2e2e2e" stroke-width="1.5"/>
<line x1="443.05" y1="320" x2="443.05" y2="378.5" stroke="#404040" stroke-width="0.8"/>
<line x1="443.05" y1="419.1" x2="443.05" y2="475.8" stroke="#404040" stroke-width="0.8"/>
<rect x="441.1" y="378.5" width="3.9" height="40.6" fill="#ffffff" stroke="#2e2e2e" stroke-width="0.8"/>
<line x1="441.1" y1="398.1" x2="445" y2="398.1" stroke="#2e2e2e" stroke-width="1.5"/>
<circle cx="443.05" cy="302.1" r="1.6" fill="#111"/>
<circle cx="443.05" cy="311.3" r="1.6" fill="#111"/>
<circle cx="443.05" cy="314.4" r="1.6" fill="#111"/>
<circle cx="443.05" cy="489" r="1.6" fill="#111"/>
<circle cx="443.05" cy="501.1" r="1.6" fill="#111"/>
<line x1="446.8" y1="323.8" x2="446.8" y2="372.9" stroke="#404040" stroke-width="0.8"/>
<line x1="446.8" y1="412.3" x2="446.8" y2="464.5" stroke="#404040" stroke-width="0.8"/>
<rect x="445" y="372.9" width="3.6" height="39.4" fill="#a9a9a9" stroke="#2e2e2e" stroke-width="0.8"/>
<line x1="445" y1="394.8" x2="448.6" y2="394.8" stroke="#2e2e2e" stroke-width="1.5"/>
<circle cx="446.8" cy="471.6" r="1.6" fill="#111"/>
<circle cx="446.8" cy="482.8" r="1.6" fill="#111"/>
<line x1="450.4" y1="337.5" x2="450.4" y2="370.4" stroke="#404040" stroke-width="0.8"/>
<line x1="450.4" y1="420.4" x2="450.4" y2="450.1" stroke="#404040" stroke-width="0.8"/>
<rect x="448.6" y="370.4" width="3.6" height="50" fill="#4d4d4d" stroke="#2e2e2e" stroke-width="0.8"/>
<line x1="448.6" y1="388.3" x2="452.2" y2="388.3" stroke="#2e2e2e" stroke-width="1.5"/>
<line x1="460.65" y1="319.4" x2="460.65" y2="374.8" stroke="#404040" stroke-width="0.8"/>
<line x1="460.65" y1="411" x2="460.65" y2="467.6" stroke="#404040" stroke-width="0.8"/>
<rect x="458.8" y="374.8" width="3.7" height="36.2" fill="#ffffff" stroke="#2e2e2e" stroke-width="0.8"/>
<line x1="458.8" y1="392.3" x2="462.5" y2="392.3" stroke="#2e2e2e" stroke-width="1.5"/>
<circle cx="460.65" cy="305.9" r="1.6" fill="#111"/>
<circle cx="460.65" cy="308.5" r="1.6" fill="#111"/>
<circle cx="460.65" cy="311" r="1.6" fill="#111"/>
<circle cx="460.65" cy="313.5" r="1.6" fill="#111"/>
<circle cx="460.65" cy="316" r="1.6" fill="#111"/>
<circle cx="460.65" cy="469" r="1.6" fill="#111"/>
<circle cx="460.65" cy="471.5" r="1.6" fill="#111"/>
<circle cx="460.65" cy="474" r="1.6" fill="#111"/>
<circle cx="460.65" cy="476.5" r="1.6" fill="#111"/>
<circle cx="460.65" cy="479" r="1.6" fill="#111"/>
<circle cx="460.65" cy="490.9" r="1.6" fill="#111"/>
<circle cx="460.65" cy="494.4" r="1.6" fill="#111"/>
<line x1="464.15" y1="307.5" x2="464.15" y2="365.4" stroke="#404040" stroke-width="0.8"/>
<line x1="464.15" y1="404.8" x2="464.15" y2="463.9" stroke="#404040" stroke-width="0.8"/>
<rect x="462.5" y="365.4" width="3.3" height="39.4" fill="#a9a9a9" stroke="#2e2e2e" stroke-width="0.8"/>
<line x1="462.5" y1="385.6" x2="465.8" y2="385.6" stroke="#2e2e2e" stroke-width="1.5"/>
<circle cx="464.15" cy="300.3" r="1.6" fill="#111"/>
<circle cx="464.15" cy="475.8" r="1.6" fill="#111"/>
<line x1="467.7" y1="340" x2="467.7" y2="371" stroke="#404040" stroke-width="0.8"/>
<line x1="467.7" y1="395.4" x2="467.7" y2="422" stroke="#404040" stroke-width="0.8"/>
<rect x="465.8" y="371" width="3.8" height="24.4" fill="#4d4d4d" stroke="#2e2e2e" stroke-width="0.8"/>
<line x1="465.8" y1="381" x2="469.6" y2="381" stroke="#2e2e2e" stroke-width="1.5"/>
<circle cx="467.7" cy="325" r="1.6" fill="#111"/>
<circle cx="467.7" cy="329.4" r="1.6" fill="#111"/>
<circle cx="467.7" cy="333.4" r="1.6" fill="#111"/>
<circle cx="467.7" cy="467" r="1.6" fill="#111"/>
<rect x="302.3" y="290.5" width="55.6" height="220.3" fill="none" stroke="#979797" stroke-width="0.9"/>
<rect x="302.3" y="280.5" width="55.6" height="10" fill="#bfbfbf" stroke="#a0a0a0" stroke-width="0.7"/>
<text x="330.1" y="287.8" font-size="6.8" text-anchor="middle" fill="#000000" stroke="#000000" stroke-width="0.05">TT</text>
<line x1="312.73" y1="510.8" x2="312.73" y2="514.2" stroke="#333333" stroke-width="0.8"/>
<text x="312.73" y="521" font-size="7" text-anchor="middle" fill="#000000" stroke="#000000" stroke-width="0.15">AA</text>
<line x1="330.1" y1="510.8" x2="330.1" y2="514.2" stroke="#333333" stroke-width="0.8"/>
<text x="330.1" y="521" font-size="7" text-anchor="middle" fill="#000000" stroke="#000000" stroke-width="0.15">AG</text>
<line x1="347.48" y1="510.8" x2="347.48" y2="514.2" stroke="#333333" stroke-width="0.8"/>
<text x="347.48" y="521" font-size="7" text-anchor="middle" fill="#000000" stroke="#000000" stroke-width="0.15">GG</text>
<rect x="360.4" y="290.5" width="55.8" height="220.3" fill="none" stroke="#979797" stroke-width="0.9"/>
<rect x="360.4" y="280.5" width="55.8" height="10" fill="#bfbfbf" stroke="#a0a0a0" stroke-width="0.7"/>
<text x="388.3" y="287.8" font-size="6.8" text-anchor="middle" fill="#000000" stroke="#000000" stroke-width="0.05">TC</text>
<line x1="370.86" y1="510.8" x2="370.86" y2="514.2" stroke="#333333" stroke-width="0.8"/>
<text x="370.86" y="521" font-size="7" text-anchor="middle" fill="#000000" stroke="#000000" stroke-width="0.15">AA</text>
<line x1="388.3" y1="510.8" x2="388.3" y2="514.2" stroke="#333333" stroke-width="0.8"/>
<text x="388.3" y="521" font-size="7" text-anchor="middle" fill="#000000" stroke="#000000" stroke-width="0.15">AG</text>
<line x1="405.74" y1="510.8" x2="405.74" y2="514.2" stroke="#333333" stroke-width="0.8"/>
<text x="405.74" y="521" font-size="7" text-anchor="middle" fill="#000000" stroke="#000000" stroke-width="0.15">GG</text>
<rect x="418.8" y="290.5" width="55.6" height="220.3" fill="none" stroke="#979797" stroke-width="0.9"/>
<rect x="418.8" y="280.5" width="55.6" height="10" fill="#bfbfbf" stroke="#a0a0a0" stroke-width="0.7"/>
<text x="446.6" y="287.8" font-size="6.8" text-anchor="middle" fill="#000000" stroke="#000000" stroke-width="0.05">CC</text>
<line x1="429.23" y1="510.8" x2="429.23" y2="514.2" stroke="#333333" stroke-width="0.8"/>
<text x="429.23" y="521" font-size="7" text-anchor="middle" fill="#000000" stroke="#000000" stroke-width="0.15">AA</text>
<line x1="446.6" y1="510.8" x2="446.6" y2="514.2" stroke="#333333" stroke-width="0.8"/>
<text x="446.6" y="521" font-size="7" text-anchor="middle" fill="#000000" stroke="#000000" stroke-width="0.15">AG</text>
<line x1="463.98" y1="510.8" x2="463.98" y2="514.2" stroke="#333333" stroke-width="0.8"/>
<text x="463.98" y="521" font-size="7" text-anchor="middle" fill="#000000" stroke="#000000" stroke-width="0.15">GG</text>
<line x1="298.9" y1="323.8" x2="302.3" y2="323.8" stroke="#333333" stroke-width="0.8"/>
<text x="297.7" y="326.3" font-size="7" text-anchor="end" fill="#000000" stroke="#000000" stroke-width="0.15">5.00</text>
<line x1="298.9" y1="373" x2="302.3" y2="373" stroke="#333333" stroke-width="0.8"/>
<text x="297.7" y="375.5" font-size="7" text-anchor="end" fill="#000000" stroke="#000000" stroke-width="0.15">4.75</text>
<line x1="298.9" y1="422.1" x2="302.3" y2="422.1" stroke="#333333" stroke-width="0.8"/>
<text x="297.7" y="424.6" font-size="7" text-anchor="end" fill="#000000" stroke="#000000" stroke-width="0.15">4.50</text>
<line x1="298.9" y1="471.3" x2="302.3" y2="471.3" stroke="#333333" stroke-width="0.8"/>
<text x="297.7" y="473.8" font-size="7" text-anchor="end" fill="#000000" stroke="#000000" stroke-width="0.15">4.25</text>
<text x="388.3" y="279.3" font-size="8.6" text-anchor="middle" fill="#000" stroke="#000" stroke-width="0.2" textLength="41.5" lengthAdjust="spacingAndGlyphs" font-weight="bold">rs4252129</text>
<text x="388" y="530.2" font-size="8.4" text-anchor="middle" fill="#000000" stroke="#000000" stroke-width="0.1" textLength="39.3" lengthAdjust="spacingAndGlyphs">rs1084651</text>
<text x="275.6" y="400.5" font-size="8.7" text-anchor="middle" fill="#000000" stroke="#000000" stroke-width="0.1" transform="rotate(-90 275.6 400.5)" textLength="93.5" lengthAdjust="spacingAndGlyphs">log(Plasminogen Levels)</text>
<text x="264.3" y="281.6" font-size="11.8" text-anchor="start" fill="#000" stroke="#000" stroke-width="0.4" font-weight="bold">D</text>
<text x="484.8" y="383.6" font-size="6.6" text-anchor="start" fill="#000000" stroke="#000000" stroke-width="0.12" textLength="34.6" lengthAdjust="spacingAndGlyphs" font-weight="bold">rs10412972</text>
<rect x="484.7" y="386.8" width="11.8" height="12" fill="#ffffff" stroke="#d6d6d6" stroke-width="0.5"/>
<line x1="490.6" y1="388" x2="490.6" y2="397.6" stroke="#2e2e2e" stroke-width="0.8"/>
<rect x="486" y="389.85" width="9.4" height="5.9" fill="#ffffff" stroke="#2e2e2e" stroke-width="0.8"/>
<line x1="486" y1="392.8" x2="495.4" y2="392.8" stroke="#2e2e2e" stroke-width="0.9"/>
<text x="498.1" y="395.2" font-size="6.7" text-anchor="start" fill="#000000" stroke="#000000" stroke-width="0.1">GG</text>
<rect x="484.7" y="398.9" width="11.8" height="12" fill="#ffffff" stroke="#d6d6d6" stroke-width="0.5"/>
<line x1="490.6" y1="400.1" x2="490.6" y2="409.7" stroke="#2e2e2e" stroke-width="0.8"/>
<rect x="486" y="401.95" width="9.4" height="5.9" fill="#a9a9a9" stroke="#2e2e2e" stroke-width="0.8"/>
<line x1="486" y1="404.9" x2="495.4" y2="404.9" stroke="#2e2e2e" stroke-width="0.9"/>
<text x="498.1" y="407.3" font-size="6.7" text-anchor="start" fill="#000000" stroke="#000000" stroke-width="0.1">AG</text>
<rect x="484.7" y="411.1" width="11.8" height="12" fill="#ffffff" stroke="#d6d6d6" stroke-width="0.5"/>
<line x1="490.6" y1="412.3" x2="490.6" y2="421.9" stroke="#2e2e2e" stroke-width="0.8"/>
<rect x="486" y="414.15" width="9.4" height="5.9" fill="#4d4d4d" stroke="#2e2e2e" stroke-width="0.8"/>
<line x1="486" y1="417.1" x2="495.4" y2="417.1" stroke="#2e2e2e" stroke-width="0.9"/>
<text x="498.1" y="419.5" font-size="6.7" text-anchor="start" fill="#000000" stroke="#000000" stroke-width="0.1">AA</text>
</svg>
</body>
</html>
